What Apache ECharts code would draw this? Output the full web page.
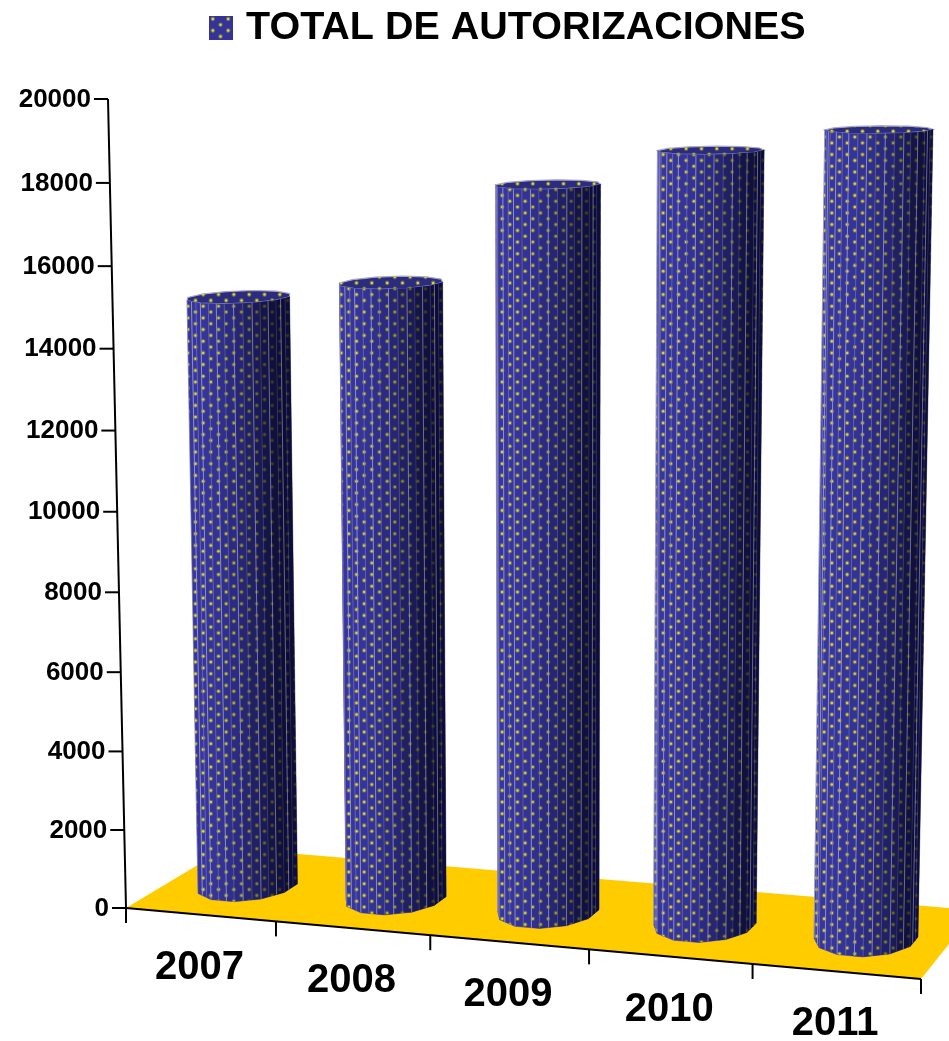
<!DOCTYPE html>
<html><head><meta charset="utf-8">
<style>html,body{margin:0;padding:0;background:#fff}#c{width:949px;height:1041px}</style>
<script src="https://cdn.jsdelivr.net/npm/echarts@6/dist/echarts.min.js"></script>
</head><body><div id="c"></div>
<script>
const years = ['2007','2008','2009','2010','2011'];
const autorizaciones = [15020,15490,17950,18830,19370];
const valueTicks = [0,2000,4000,6000,8000,10000,12000,14000,16000,18000,20000];
const seriesName = 'TOTAL DE AUTORIZACIONES';

// projection of the chart box (u along categories, v along values, w into depth)
const cam = {O:[126,908],U:[921,979],V:[108,99],W:[226,848],cu:-0.07,cv:-0.04,cw:0.065};
const A = [cam.U[0]*(1+cam.cu)-cam.O[0], cam.V[0]*(1+cam.cv)-cam.O[0], cam.W[0]*(1+cam.cw)-cam.O[0]];
const B = [cam.U[1]*(1+cam.cu)-cam.O[1], cam.V[1]*(1+cam.cv)-cam.O[1], cam.W[1]*(1+cam.cw)-cam.O[1]];
function proj(u,v,w){
  const d = 1+cam.cu*u+cam.cv*v+cam.cw*w;
  return [(A[0]*u+A[1]*v+A[2]*w+cam.O[0])/d,(B[0]*u+B[1]*v+B[2]*w+cam.O[1])/d];
}
const cyl = {ru:0.0605,rw:0.27,w0:0.48,sides:12,sub:3};

function dotTile(bg){
  const c=document.createElement('canvas');c.width=46;c.height=35;
  const g=c.getContext('2d');
  if(bg){g.fillStyle=bg;g.fillRect(0,0,46,35);}
  for(let i=0;i<6;i++)for(let j=-1;j<4;j++){
    const x=(i+0.5)*46/6,y=(j+(i%2?0.5:0)+0.25)*35/3;
    g.fillStyle='rgba(175,170,50,0.45)';g.beginPath();g.arc(x,y,2.3,0,7);g.fill();
    g.fillStyle='#e0d828';g.beginPath();g.arc(x,y,1.25,0,7);g.fill();
  }
  return c;
}
const dots={image:dotTile(null),repeat:'repeat'};
const legendTile={image:dotTile('#333399'),repeat:'repeat'};

const chart=echarts.init(document.getElementById('c'),null,{renderer:'canvas'});
const F='"Liberation Sans",Arial,sans-serif';

function renderFloor(p,api){
  const pts=[proj(0,0,0),proj(1,0,0),proj(1,0,1),proj(0,0,1)];
  return {type:'polygon',silent:true,shape:{points:pts},style:{fill:'#ffcc00'}};
}
function renderAxes(p,api){
  const W=api.getWidth(),H=api.getHeight();
  const kids=[];
  const line=(a,b)=>kids.push({type:'line',silent:true,shape:{x1:a[0],y1:a[1],x2:b[0],y2:b[1]},style:{stroke:'#000',lineWidth:2}});
  line(proj(0,0,0),proj(0,1,0));
  line(proj(0,0,0),proj(1,0,0));
  valueTicks.forEach(t=>{
    const v=(H-api.coord([0,t])[1])/H, q=proj(0,v,0);
    line([q[0]-14,q[1]],q);
    kids.push({type:'text',silent:true,style:{x:q[0]-17,y:q[1]+0.5,text:String(t),fill:'#000',align:'right',verticalAlign:'middle',font:'bold 26px '+F}});
  });
  const band=api.size([1,0])[0];
  years.forEach((y,i)=>{
    const cx=api.coord([i,0])[0];
    const q=proj((cx-band/2)/W,0,0);
    line(q,[q[0],q[1]+15]);
    if(i===years.length-1){const e=proj((cx+band/2)/W,0,0);line(e,[e[0],e[1]+15]);}
    const m=proj(cx/W,0,0);
    kids.push({type:'text',silent:true,style:{x:m[0]-1,y:m[1]+53,text:y,fill:'#000',align:'center',verticalAlign:'middle',font:'bold 40px '+F}});
  });
  return {type:'group',children:kids};
}
function renderBar(p,api){
  const W=api.getWidth(),H=api.getHeight();
  const idx=api.value(0),val=api.value(1);
  const u0=api.coord([idx,0])[0]/W, vT=(H-api.coord([idx,val])[1])/H;
  const n=cyl.sides*cyl.sub, kids=[];
  const pt=(th,v)=>proj(u0+cyl.ru*Math.cos(th),v,cyl.w0+cyl.rw*Math.sin(th));
  const area=q=>{let s=0;q.forEach((a,i)=>{const b=q[(i+1)%q.length];s+=a[0]*b[1]-a[1]*b[0];});return s;};
  const ref=Math.sign(area([pt(-Math.PI/2-.1,0),pt(-Math.PI/2+.1,0),pt(-Math.PI/2+.1,vT),pt(-Math.PI/2-.1,vT)]));
  const top=[];
  for(let i=0;i<cyl.sides;i++)top.push(pt((i+.5)*2*Math.PI/cyl.sides,vT));
  kids.push({type:'polygon',silent:true,shape:{points:top},style:{fill:'#2b2b80',stroke:'#a6a6cc',lineWidth:1.2}});
  kids.push({type:'polygon',silent:true,shape:{points:top},style:{fill:dots}});
  for(let i=0;i<n;i++){
    const s=Math.floor(i/cyl.sub), a0=(s+.5)*2*Math.PI/cyl.sides, a1=(s+1.5)*2*Math.PI/cyl.sides;
    const f=i%cyl.sub/cyl.sub,g=(i%cyl.sub+1)/cyl.sub;
    const ring=(k,v)=>{const c0=[Math.cos(a0),Math.sin(a0)],c1=[Math.cos(a1),Math.sin(a1)];
      return proj(u0+cyl.ru*(c0[0]+(c1[0]-c0[0])*k),v,cyl.w0+cyl.rw*(c0[1]+(c1[1]-c0[1])*k));};
    const b1=ring(f,0),b2=ring(g,0),t2=ring(g,vT),t1=ring(f,vT);
    const q=[b1,b2,t2,t1];
    if(Math.sign(area(q))!==ref)continue;
    const mid=(a0+(a1-a0)*(f+g)/2), c=Math.cos(mid);
    const al=Math.pow(Math.max(0,(c+0.5)/1.5),2.4)*0.78;
    kids.push({type:'polygon',silent:true,shape:{points:q},style:{fill:'#36369e',stroke:'#36369e',lineWidth:0.5}});
    kids.push({type:'polygon',silent:true,shape:{points:q},style:{fill:dots}});
    kids.push({type:'polygon',silent:true,shape:{points:q},style:{fill:'rgba(0,0,20,'+al.toFixed(3)+')'}});
    kids.push({type:'line',silent:true,shape:{x1:b1[0],y1:b1[1],x2:t1[0],y2:t1[1]},style:{stroke:'rgba(175,175,215,'+((i%2?0.3:0.7)-al*0.3).toFixed(2)+')',lineWidth:1}});
  }
  return {type:'group',children:kids};
}

chart.setOption({
  animation:false,
  backgroundColor:'#fff',
  grid:{left:0,right:0,top:0,bottom:0,containLabel:false},
  xAxis:{type:'category',data:years,show:false,boundaryGap:true},
  yAxis:{type:'value',min:0,max:20000,interval:2000,show:false},
  legend:{
    left:204,top:3,itemWidth:24,itemHeight:24,icon:'rect',
    data:[{name:seriesName,itemStyle:{color:legendTile,borderWidth:0}}],
    textStyle:{color:'#000',fontFamily:'Liberation Sans',fontWeight:'bold',fontSize:39.5,padding:[0,0,0,8]}
  },
  series:[
    {type:'custom',name:'suelo',z:1,renderItem:renderFloor,data:[[0]],silent:true,encode:{x:0,y:0},clip:false},
    {type:'custom',name:'ejes',z:2,renderItem:renderAxes,data:[[0]],silent:true,encode:{x:0,y:0},clip:false},
    {type:'custom',name:seriesName,z:3,renderItem:renderBar,silent:true,clip:false,
     encode:{x:0,y:1},itemStyle:{color:'#333399'},
     data:autorizaciones.map((v,i)=>[i,v])}
  ]
});
</script></body></html>
